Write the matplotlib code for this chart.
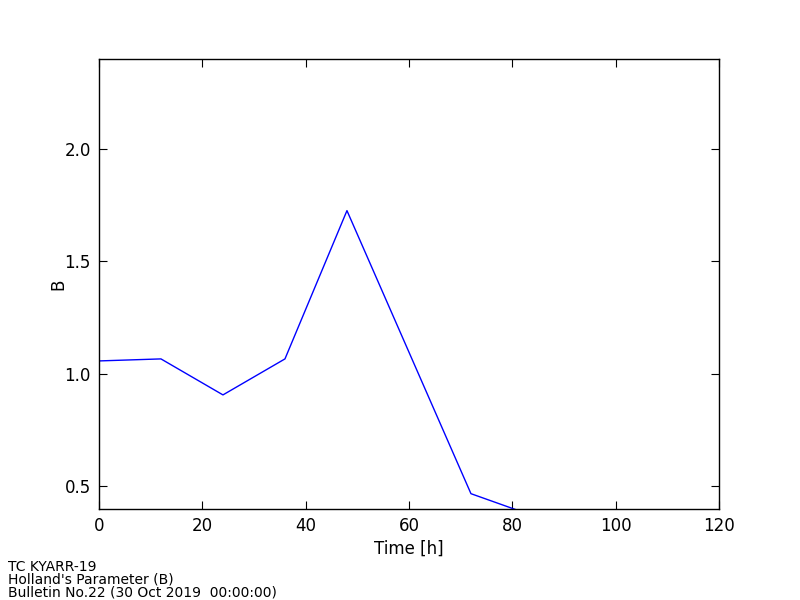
import matplotlib
matplotlib.use('Agg')
import matplotlib.pyplot as plt

# data
hours = [0, 12, 24, 36, 48, 60, 72, 84]
holland_b = [1.058, 1.067, 0.907, 1.067, 1.726, 1.097, 0.468, 0.37]

footer = "TC KYARR-19\nHolland's Parameter (B)\nBulletin No.22 (30 Oct 2019  00:00:00)"

fig = plt.figure(figsize=(8, 6), dpi=100)
ax = fig.add_axes([0.1237, 0.1517, 0.775, 0.75])

ax.plot(hours, holland_b, color='b', linewidth=1)

ax.set_xlim(0, 120)
ax.set_ylim(0.4, 2.4)
ax.set_xticks([0, 20, 40, 60, 80, 100, 120])
ax.set_yticks([0.5, 1.0, 1.5, 2.0])
ax.set_xlabel("Time [h]", fontsize=12, labelpad=3)
ax.set_ylabel("B", fontsize=12, labelpad=-2)

# classic look: inward ticks on all four sides
ax.tick_params(direction='in', top=True, right=True, length=6, labelsize=12, pad=6)
for sp in ax.spines.values():
    sp.set_linewidth(1)

fig.text(0.01, 0.0, footer, fontsize=10, ha='left', va='bottom', linespacing=0.93)

fig.savefig("out.png", dpi=100)
